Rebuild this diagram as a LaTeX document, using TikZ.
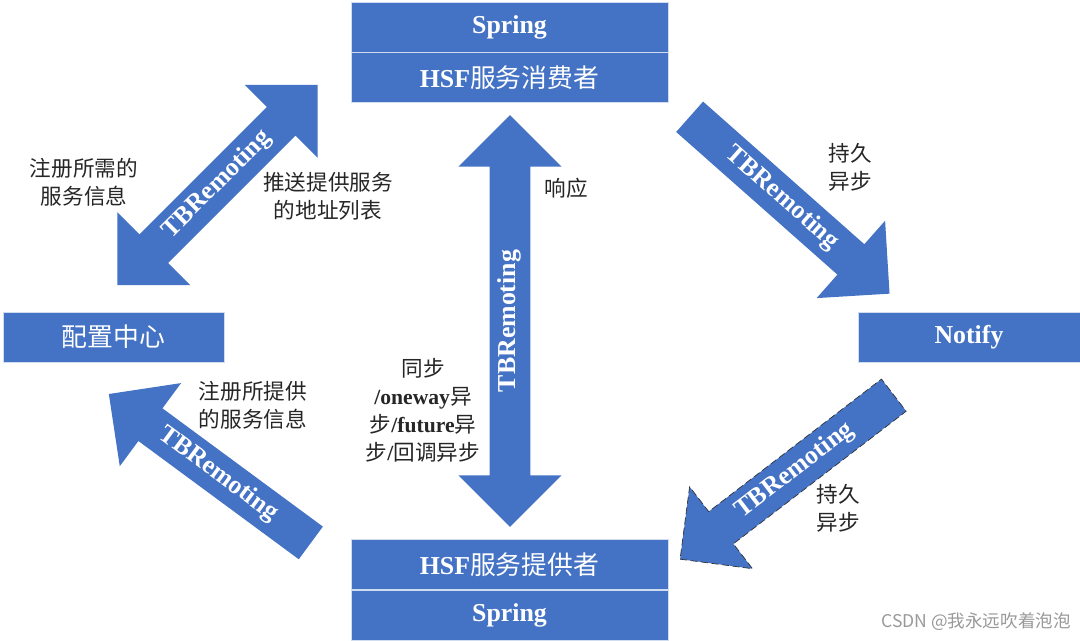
\documentclass[tikz,border=0pt]{standalone}
\usepackage{fontspec}
\setmainfont{Liberation Serif}
\newfontfamily\cjk{Noto Sans CJK SC}
\newcommand{\zh}[1]{{\cjk\mdseries #1}}
\usetikzlibrary{shapes.arrows,positioning}
\definecolor{hsfblue}{RGB}{68,114,196}
\tikzstyle{box} = [draw=white!75!hsfblue, fill=hsfblue, text=white, rectangle, minimum height=1cm, font=\fontsize{14.7}{16}\selectfont\bfseries]
\tikzstyle{label} = [align=center, text=black!85, font=\fontsize{12.3}{16}\selectfont]
\tikzstyle{pipe} = [fill=hsfblue, text=white, inner xsep=0pt, inner ysep=4.85pt, text height=9.8pt, text depth=3.2pt, font=\fontsize{14.7}{16}\selectfont\bfseries]
\tikzstyle{onearrow} = [pipe, single arrow, single arrow head extend=17.85pt, single arrow tip angle=90]
\tikzstyle{twoarrow} = [pipe, double arrow, double arrow head extend=17.85pt, double arrow tip angle=90]

\begin{document}
\begin{tikzpicture}[x=0.02cm, y=0.02cm, node distance=0pt]
\useasboundingbox (0,0) rectangle (1080,641);

\node [box, minimum width=6.34cm] (spring1) at (509.5,614) {Spring};
\node [box, minimum width=6.34cm, below=of spring1] (consumer) {HSF\zh{服务消费者}};
\node [box, minimum width=6.34cm] (spring2) at (509.5,25.5) {Spring};
\node [box, minimum width=6.34cm, above=of spring2] (provider) {HSF\zh{服务提供者}};
\node [box, minimum width=4.42cm] (config) at (113.5,304) {\zh{配置中心}};
\node [box, minimum width=4.44cm] (notify) at (969,304) {Notify};

\node [twoarrow, minimum height=5.67cm, rotate=45] (pull) at (217.5,456) {TBRemoting};
\node [twoarrow, minimum height=8.24cm, rotate=90] (call) at (510,320) {TBRemoting};
\node [onearrow, minimum height=5.34cm, rotate=-41.5] (toNotify) at (782,442.5) {TBRemoting};
\node [onearrow, draw=black!80, dash pattern=on 4pt off 2pt, minimum height=5.39cm, rotate=37.5, shape border rotate=180] (fromNotify) at (795,170) {TBRemoting};
\node [onearrow, minimum height=5.02cm, rotate=-36.4, shape border rotate=180] (register) at (218,166.5) {TBRemoting};

\node [label] (need) at (84,459) {\zh{注册所需的}\\\zh{服务信息}};
\node [label] (push) at (328,445) {\zh{推送提供服务}\\\zh{的地址列表}};
\node [label] (resp) at (566,453) {\zh{响应}};
\node [label] (persist1) at (850,474) {\zh{持久}\\\zh{异步}};
\node [label] (persist2) at (838,133) {\zh{持久}\\\zh{异步}};
\node [label] (offer) at (253,236) {\zh{注册所提供}\\\zh{的服务信息}};
\node [label] (modes) at (423,231) {\zh{同步}\\\textbf{/oneway}\zh{异}\\\zh{步}\textbf{/future}\zh{异}\\\zh{步}\textbf{/}\zh{回调异步}};

\node [anchor=east, text=black!40, font=\fontsize{10}{12}\selectfont] (mark) at (1077,19) {\zh{CSDN @我永远吹着泡泡}};

\end{tikzpicture}
\end{document}
